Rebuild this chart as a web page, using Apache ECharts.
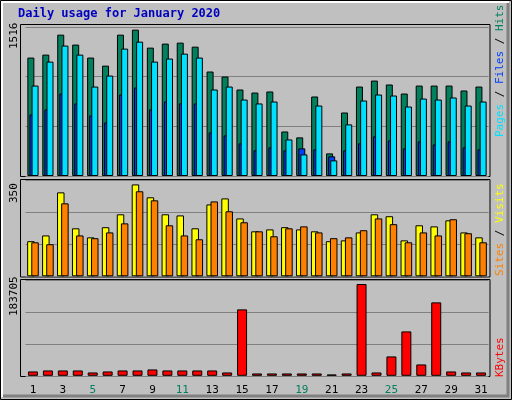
<!DOCTYPE html>
<html><head><meta charset="utf-8">
<script src="https://cdn.jsdelivr.net/npm/echarts@6/dist/echarts.min.js"></script>
<style>html,body{margin:0;padding:0;background:#c0c0c0}#c{width:512px;height:400px}</style>
</head><body><div id="c"></div>
<script>
const days = ['1','2','3','4','5','6','7','8','9','10','11','12','13','14','15','16','17','18','19','20','21','22','23','24','25','26','27','28','29','30','31'];
const weekends = ['4','5','11','12','18','19','25','26'];
const hits = [1205,1235,1438,1337,1205,1123,1438,1489,1306,1347,1357,1316,1063,1012,880,849,860,453,393,809,230,646,910,971,931,839,920,920,920,870,910];
const files = [920,1164,1327,1235,910,1022,1296,1367,1164,1195,1245,1205,880,910,778,738,758,372,220,717,159,525,768,829,819,707,788,778,799,717,758];
const pages = [626,677,839,738,616,545,829,900,677,758,738,738,443,413,332,261,291,261,281,271,200,261,332,403,362,281,352,321,352,291,271];
const visits = [128,149,306,175,142,179,226,335,288,226,222,175,262,284,211,164,171,179,171,164,128,131,160,226,219,131,186,182,204,160,142];
const sites = [124,117,266,149,139,160,193,310,277,186,149,135,273,237,197,164,146,175,182,160,139,142,168,211,190,124,160,149,208,157,124];
const kbytes = [8350,10270,10270,10270,6420,8350,10270,10270,12200,10270,10270,10270,10270,6420,127760,4490,4490,4490,4490,4490,2570,4490,176550,6420,37240,85390,21830,141240,8350,6420,6420];
const maxLabels = [1516, 350, 183705];

const font = 'DejaVu Sans Mono';
const grids = [
  {left:25.5, width:463, top:27, height:149},
  {left:25.5, width:463, top:180.3, height:96},
  {left:25.5, width:463, top:280.3, height:95.5}
];
function xAx(i){return {type:'category',gridIndex:i,data:days,axisLine:{show:false},axisTick:{show:false},
  axisLabel:{show:i===2,fontFamily:font,fontSize:11,margin:9,color:(v)=>weekends.includes(v)?'#00805C':'#000'}};}
function yAx(i){const m=maxLabels[i];return {type:'value',gridIndex:i,min:0,max:m,interval:m/3,axisLabel:{show:false},
  axisLine:{show:false},axisTick:{show:false},splitLine:{lineStyle:{color:'#808080',width:1}}};}
const bs = {borderColor:'#000',borderWidth:1};
const option = {
  backgroundColor:'#c0c0c0',animation:false,
  grid:grids,
  xAxis:[xAx(0),xAx(1),xAx(2)],
  yAxis:[yAx(0),yAx(1),yAx(2)],
  series:[
    {type:'bar',xAxisIndex:0,yAxisIndex:0,data:hits,barWidth:7,barGap:'-70%',itemStyle:Object.assign({color:'#00805C'},bs)},
    {type:'bar',xAxisIndex:0,yAxisIndex:0,data:pages,barWidth:7,barGap:'-70%',itemStyle:Object.assign({color:'#0040FF'},bs)},
    {type:'bar',xAxisIndex:0,yAxisIndex:0,data:files,barWidth:7,barGap:'-70%',itemStyle:Object.assign({color:'#00E0FF'},bs)},
    {type:'bar',xAxisIndex:1,yAxisIndex:1,data:visits,barWidth:7.5,barGap:'-45%',itemStyle:Object.assign({color:'#FFFF00'},bs)},
    {type:'bar',xAxisIndex:1,yAxisIndex:1,data:sites,barWidth:7.5,barGap:'-45%',itemStyle:Object.assign({color:'#FF8000'},bs)},
    {type:'bar',xAxisIndex:2,yAxisIndex:2,data:kbytes,barWidth:10,itemStyle:Object.assign({color:'#FF0000'},bs)}
  ],
  graphic:[
    {type:'rect',shape:{x:0.5,y:0.5,width:511,height:399},style:{fill:null,stroke:'#000',lineWidth:1},silent:true},
    {type:'polyline',shape:{points:[[2,397],[2,2],[509,2]]},style:{stroke:'#fff',lineWidth:2,fill:null},silent:true},
    {type:'polyline',shape:{points:[[3,396],[508,396],[508,3]]},style:{stroke:'#808080',lineWidth:3,fill:null},silent:true},
    {type:'rect',shape:{x:20.5,y:24.5,width:469.5,height:152},style:{fill:null,stroke:'#000'},silent:true},
    {type:'rect',shape:{x:20.5,y:179.5,width:469.5,height:97.5},style:{fill:null,stroke:'#000'},silent:true},
    {type:'rect',shape:{x:20.5,y:279.5,width:469.5,height:97},style:{fill:null,stroke:'#000'},silent:true},
    {type:'text',left:18,top:8,style:{text:'Daily usage for January 2020',font:'bold 12px '+font,fill:'#0000C0'}},
    {type:'text',x:9,y:49,rotation:Math.PI/2,style:{text:String(maxLabels[0]),font:'11px '+font,fill:'#000'}},
    {type:'text',x:9,y:203,rotation:Math.PI/2,style:{text:String(maxLabels[1]),font:'11px '+font,fill:'#000'}},
    {type:'text',x:9,y:316,rotation:Math.PI/2,style:{text:String(maxLabels[2]),font:'11px '+font,fill:'#000'}},
    {type:'text',x:495,y:137,rotation:Math.PI/2,style:{text:'{p|Pages} / {f|Files} / {h|Hits}',font:'11px '+font,fill:'#000',
      rich:{p:{fill:'#00E0FF',font:'11px '+font},f:{fill:'#0040FF',font:'11px '+font},h:{fill:'#00805C',font:'11px '+font}}}},
    {type:'text',x:495,y:276,rotation:Math.PI/2,style:{text:'{s|Sites} / {v|Visits}',font:'11px '+font,fill:'#000',
      rich:{s:{fill:'#FF8000',font:'11px '+font},v:{fill:'#FFFF00',font:'11px '+font}}}},
    {type:'text',x:495,y:377,rotation:Math.PI/2,style:{text:'KBytes',font:'11px '+font,fill:'#FF0000'}}
  ]
};
echarts.init(document.getElementById('c')).setOption(option);
</script></body></html>
